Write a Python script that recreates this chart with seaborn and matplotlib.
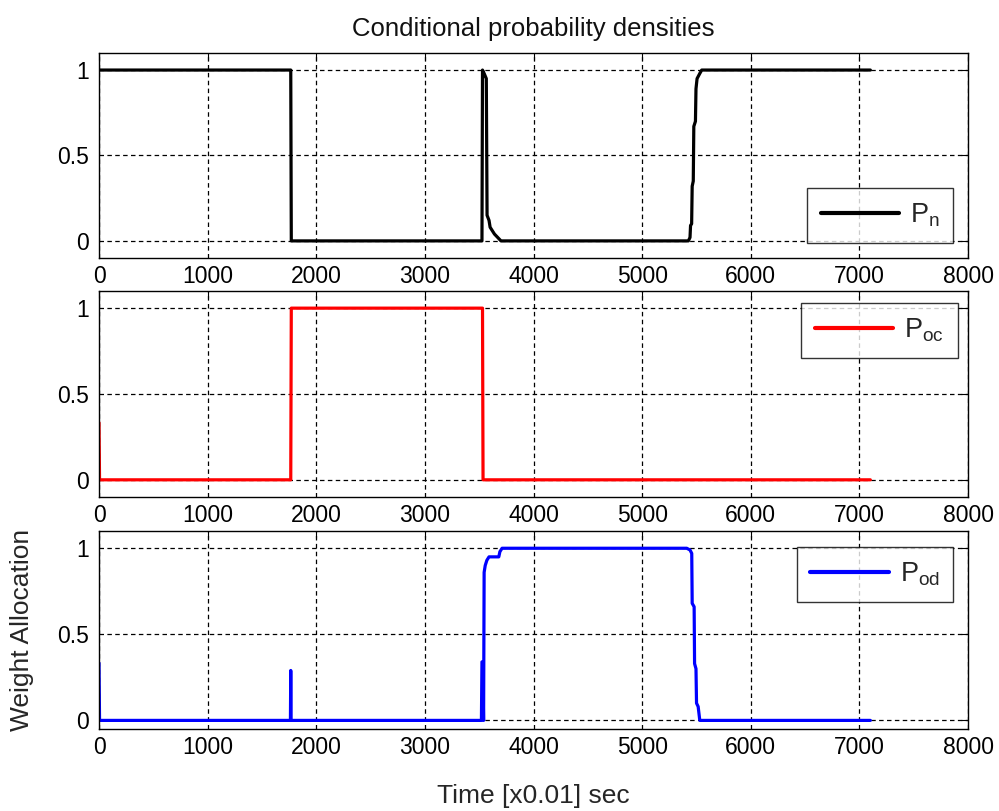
import matplotlib
matplotlib.use("Agg")
import matplotlib.pyplot as plt
import seaborn as sns
import pandas as pd

# ---------------- data ----------------
t_n = [0, 1765, 1770, 3525, 3530, 3545, 3565, 3572, 3590, 3600, 3640, 3700,
       5425, 5440, 5445, 5455, 5460, 5470, 5475, 5490, 5495, 5505, 5530, 5548, 7100]
p_n = [1, 1, 0, 0, 1, 0.98, 0.95, 0.15, 0.12, 0.08, 0.04, 0,
       0, 0.02, 0.09, 0.10, 0.32, 0.35, 0.67, 0.70, 0.89, 0.95, 0.98, 1, 1]

t_oc = [0, 5, 1765, 1770, 3530, 3535, 7100]
p_oc = [0.333, 0, 0, 1, 1, 0, 0]

t_od = [0, 5, 1762, 1765, 1768, 3520, 3525, 3532, 3540, 3545, 3555, 3570, 3590,
        3680, 3690, 3710, 5410, 5440, 5456, 5460, 5478, 5482, 5495, 5500, 5515, 5530, 7100]
p_od = [0.333, 0, 0, 0.29, 0, 0, 0.34, 0.34, 0, 0.86, 0.90, 0.93, 0.95,
        0.95, 0.98, 1.0, 1.0, 0.99, 0.97, 0.68, 0.66, 0.33, 0.30, 0.10, 0.08, 0, 0]

x_ticks = [0, 1000, 2000, 3000, 4000, 5000, 6000, 7000, 8000]
y_ticks = [0, 0.5, 1]
y_tick_labels = ["0", "0.5", "1"]

title = "Conditional probability densities"
xlabel = "Time [x0.01] sec"
ylabel = "Weight Allocation"
labels = [r"$\mathregular{P_{n}}$", r"$\mathregular{P_{oc}}$", r"$\mathregular{P_{od}}$"]
colors = ["black", "red", "blue"]

# ---------------- style ----------------
sns.set_theme(style="white")
plt.rcParams["font.family"] = ["Liberation Sans", "DejaVu Sans"]
plt.rcParams["mathtext.fontset"] = "custom"
plt.rcParams["mathtext.rm"] = "Liberation Sans"

fig = plt.figure(figsize=(9.99, 8.11), dpi=100)
positions = [
    [0.0991, 0.6819, 0.870, 0.2528],
    [0.0991, 0.3872, 0.870, 0.2540],
    [0.0991, 0.1011, 0.870, 0.2441],
]
ylims = [(-0.1, 1.1), (-0.1, 1.1), (-0.05, 1.1)]
series = [(t_n, p_n), (t_oc, p_oc), (t_od, p_od)]
leg_cfg = [
    dict(loc="lower right", bbox_to_anchor=(0.983, 0.073)),
    dict(loc="upper right", bbox_to_anchor=(0.988, 0.94)),
    dict(loc="upper right", bbox_to_anchor=(0.983, 0.919)),
]

axes = []
for i in range(3):
    ax = fig.add_axes(positions[i])
    axes.append(ax)
    t, p = series[i]
    df = pd.DataFrame({"t": t, "p": p})
    sns.lineplot(data=df, x="t", y="p", ax=ax, color=colors[i], lw=2.3,
                 sort=False, estimator=None, label=labels[i])
    ax.set_xlim(0, 8000)
    ax.set_ylim(*ylims[i])
    ax.set_xticks(x_ticks)
    ax.set_xticklabels([str(v) for v in x_ticks])
    ax.set_yticks(y_ticks)
    ax.set_yticklabels(y_tick_labels)
    ax.grid(True, color="black", lw=0.9, linestyle=(0, (3.6, 2.7)))
    ax.set_axisbelow(True)
    ax.tick_params(direction="in", length=5, width=0.8, top=True, right=True,
                   labelsize=16.5, colors="black")
    ax.tick_params(axis="y", pad=7)
    ax.tick_params(axis="x", pad=5)
    for s in ax.spines.values():
        s.set_color("black")
        s.set_linewidth(1.0)
    ax.set_xlabel("")
    ax.set_ylabel("")
    leg = ax.legend(fontsize=19.5, handlelength=2.9, handletextpad=0.4,
                    borderpad=0.5, frameon=True, fancybox=False, shadow=False,
                    borderaxespad=0, **leg_cfg[i])
    leg.get_frame().set_edgecolor("black")
    leg.get_frame().set_linewidth(1.0)
    for h in leg.get_lines():
        h.set_linewidth(3)

axes[0].set_title(title, fontsize=18.5, pad=12, color="#111111")
axes[2].set_xlabel(xlabel, fontsize=19, labelpad=18)
axes[2].set_ylabel(ylabel, fontsize=19, labelpad=17)

fig.savefig("out.png", dpi=100)
